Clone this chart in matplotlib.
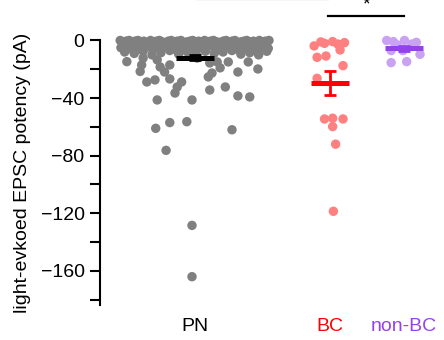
import numpy as np
import matplotlib
matplotlib.use("Agg")
import matplotlib.pyplot as plt

plt.rcParams['font.family'] = ['Liberation Sans', 'DejaVu Sans']

groups = ["PN", "BC", "non-BC"]
positions = [0.0, 1.82, 2.82]

# PN cells: x jitter (offset from group centre) and current (pA)
pn_x = [-1.01, -0.97, -0.93, -0.89, -0.85, -0.81, -0.77, -0.73, -0.69, -0.64,
        -0.60, -0.56, -0.52, -0.48, -0.44, -0.40, -0.36, -0.32, -0.28, -0.24,
        -0.19, -0.15, -0.11, -0.07, -0.03, 0.01, 0.05, 0.09, 0.13, 0.17,
        0.21, 0.25, 0.30, 0.34, 0.38, 0.42, 0.46, 0.50, 0.54, 0.58,
        0.62, 0.66, 0.70, 0.75, 0.79, 0.83, 0.87, 0.91, 0.95, 1.00,
        -1.00, -0.95, -0.89, -0.84, -0.78, -0.73, -0.68, -0.62, -0.57, -0.51,
        -0.46, -0.41, -0.35, -0.30, -0.24, -0.19, -0.14, -0.08, -0.03, 0.03,
        0.08, 0.14, 0.19, 0.24, 0.30, 0.35, 0.41, 0.46, 0.51, 0.57,
        0.62, 0.68, 0.73, 0.78, 0.84, 0.89, 0.95, 0.99,
        -0.95, -0.82, -0.70, -0.58, -0.46, -0.34, -0.22, -0.10, 0.02, 0.14,
        0.26, 0.38, 0.50, 0.62, 0.74, 0.86, 0.97,
        -0.92, -0.70, -0.72, -0.74, -0.51, -0.47, -0.41, -0.34, -0.65, -0.54,
        -0.34, -0.18, -0.24, -0.51, -0.27, -0.04, 0.03, 0.20, 0.23, 0.18,
        0.20, 0.30, 0.34, 0.41, 0.45, 0.58, 0.58, 0.72, 0.74, 0.85,
        -0.53, -0.34, -0.11, 0.50, -0.39, -0.04, -0.04]
pn_y = [0, -1, -0.5, 0, -1.5, -0.5, 0, -1, -0.5, -1.5,
        0, -1, -0.5, 0, -1, -1.5, -0.5, 0, -1, -0.5,
        0, -1.5, -1, -0.5, 0, -1, -0.5, -1.5, 0, -1,
        -0.5, 0, -1, -1.5, -0.5, 0, -1, -0.5, 0, -1.5,
        -1, -0.5, 0, -1, -0.5, -1.5, 0, -1, -0.5, 0,
        -5, -4, -5.5, -3.5, -6, -4.5, -5, -3, -6.5, -4,
        -5.5, -4.5, -3.5, -6, -5, -4, -6.5, -3, -5.5, -4.5,
        -5, -6, -3.5, -4, -5.5, -6.5, -4.5, -3, -5, -6,
        -4, -5.5, -3.5, -6.5, -4.5, -5, -3, -5.5,
        -8, -9, -7.5, -10, -8.5, -7, -9.5, -8, -10, -7.5,
        -9, -8, -7, -9.5, -8.5, -10, -7.5,
        -14.7, -12.2, -17, -21.5, -13.5, -18.4, -21.9, -17, -28.8, -27.4,
        -26.7, -28.8, -32.3, -41.3, -36.5, -41.3, -12.2, -15.6, -22.6, -25.3,
        -34.4, -14.9, -19, -32.3, -14.9, -21.9, -38.5, -14.9, -39.2, -19.8,
        -61, -57, -56.4, -62, -76.3, -128.4, -164]

bc_x = [-0.21, -0.07, 0.04, 0.20, 0.14, -0.17, -0.05, 0.18, -0.17, -0.07,
        0.04, 0.18, 0.04, 0.08, 0.05, -0.12, 0.11]
bc_y = [-3.8, -2, -0.8, -1.5, -6.6, -11.7, -10.8, -17.5, -26.3, -54.5,
        -54, -54.5, -59.8, -72, -118.6, -1.0, -2.5]

nonbc_x = [-0.23, -0.14, 0.01, 0.17, -0.17, -0.01, 0.22, -0.17, 0.04, -0.09, 0.11]
nonbc_y = [0, -0.8, 0, -1.3, -7, -7, -9.6, -15.4, -14.7, -3, -2.5]

dot_colors = ["#808080", "#FF8080", "#C9A3F2"]
mean_colors = ["black", "#FF0000", "#9444E6"]
label_colors = ["black", "#FF0000", "#9444E6"]

fig = plt.figure(figsize=(4.44, 3.40), dpi=100)
ax = fig.add_axes([0.225, 0.1015, 0.766, 0.7795])

data = [(pn_x, pn_y), (bc_x, bc_y), (nonbc_x, nonbc_y)]
for i, (xs, ys) in enumerate(data):
    xs = np.array(xs) + positions[i]
    ys = np.array(ys)
    ax.scatter(xs, ys, s=46, color=dot_colors[i], edgecolors='none',
               zorder=2, clip_on=False)
    m = ys.mean()
    sem = ys.std(ddof=1) / np.sqrt(len(ys))
    ax.plot([positions[i] - 0.257, positions[i] + 0.257], [m, m],
            color=mean_colors[i], lw=3.6, solid_capstyle='butt', zorder=3)
    ax.errorbar(positions[i], m, yerr=sem, color=mean_colors[i], capsize=4,
                elinewidth=2, capthick=2, zorder=3)

# significance bars
ax.plot([0.03, 1.80], [28.5, 28.5], color='#333333', lw=1.5, clip_on=False)
ax.plot([1.80, 2.82], [17.0, 17.0], color='black', lw=1.6, clip_on=False)
ax.text(2.31, 21.5, "*", ha='center', va='baseline', fontsize=14, clip_on=False)

ax.set_xlim(-1.284, 3.31)
ax.set_ylim(-184, 0)
ax.set_yticks(np.arange(0, -181, -40))
ax.set_yticks(np.arange(0, -181, -20), minor=True)
ax.set_xticks(positions)
ax.set_xticklabels(groups)
for lbl, c in zip(ax.get_xticklabels(), label_colors):
    lbl.set_color(c)

ax.tick_params(axis='y', which='both', direction='out', length=7, width=1.5,
               labelsize=14, pad=4)
ax.tick_params(axis='x', length=0, labelsize=14, pad=9)
for s in ['top', 'right', 'bottom']:
    ax.spines[s].set_visible(False)
ax.spines['left'].set_linewidth(1.5)
ax.spines['left'].set_bounds(-184, 0)

ax.set_ylabel("light-evkoed EPSC potency (pA)", fontsize=14, labelpad=7)

fig.savefig("out.png", dpi=100)
